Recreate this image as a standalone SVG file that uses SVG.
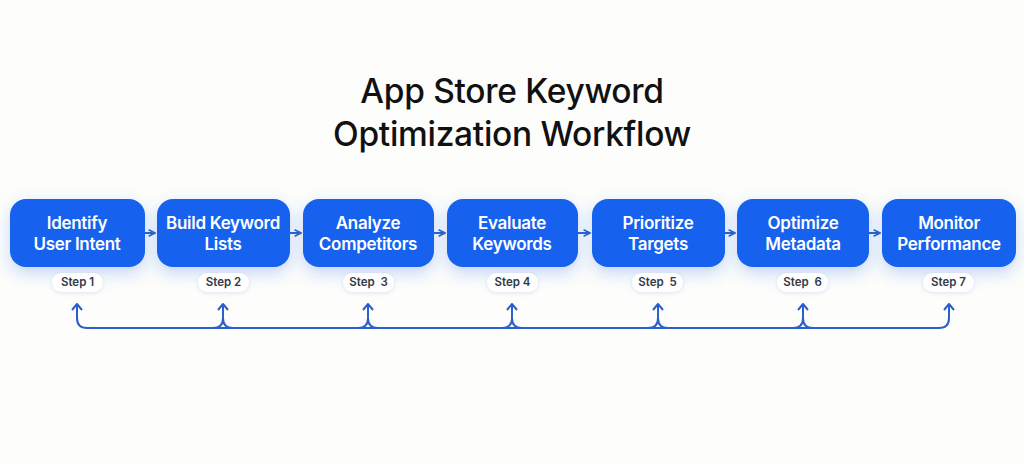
<svg xmlns="http://www.w3.org/2000/svg" width="1024" height="465" viewBox="0 0 1024 465">
<defs>
<filter id="soft" x="-30%" y="-40%" width="160%" height="220%">
<feGaussianBlur in="SourceAlpha" stdDeviation="8" result="b"/>
<feOffset in="b" dy="6" result="o"/>
<feFlood flood-color="#2f6fe8" flood-opacity="0.28"/>
<feComposite in2="o" operator="in" result="s"/>
<feMerge><feMergeNode in="s"/><feMergeNode in="SourceGraphic"/></feMerge>
</filter>
<filter id="pill" x="-30%" y="-50%" width="160%" height="220%">
<feGaussianBlur in="SourceAlpha" stdDeviation="2" result="b"/>
<feOffset in="b" dy="1" result="o"/>
<feFlood flood-color="#8aa6d6" flood-opacity="0.3"/>
<feComposite in2="o" operator="in" result="s"/>
<feMerge><feMergeNode in="s"/><feMergeNode in="SourceGraphic"/></feMerge>
</filter>
<marker id="ah" viewBox="0 0 10 10" refX="9" refY="5" markerWidth="8" markerHeight="8" markerUnits="userSpaceOnUse" orient="auto">
<path d="M1,1 L9,5 L1,9" fill="none" stroke="#2a5fcc" stroke-width="2"/>
</marker>
<marker id="up" viewBox="0 0 12 12" refX="6" refY="2" markerWidth="12" markerHeight="12" markerUnits="userSpaceOnUse" orient="0">
<path d="M1,8 L6,2 L11,8" fill="none" stroke="#2a5fcc" stroke-width="2" stroke-linejoin="round"/>
</marker>
</defs>
<style>
.box{fill:#1762ee;}
.bt{font-family:Inter,"Liberation Sans",sans-serif;font-size:17px;font-weight:600;fill:#ffffff;text-anchor:middle;letter-spacing:-0.3px}
.pl{fill:#ffffff;}
.pt{font-family:Inter,"Liberation Sans",sans-serif;font-size:11.5px;font-weight:600;fill:#333a44;text-anchor:middle}
.title{font-family:Inter,"Liberation Sans",sans-serif;font-size:33.5px;font-weight:500;fill:#111111;text-anchor:middle;letter-spacing:-0.3px}
.c{fill:none;stroke:#2a5fcc;stroke-width:2;}
</style>
<rect width="1024" height="465" fill="#fdfdfb"/>
<g id="title">
<text class="title" x="512" y="103">App Store Keyword</text>
<text class="title" x="512" y="146">Optimization Workflow</text>
</g>
<g id="connectors">
<path class="c" d="M145,233 L155,233" marker-end="url(#ah)"/>
<path class="c" d="M290,233 L301,233" marker-end="url(#ah)"/>
<path class="c" d="M434,233 L445,233" marker-end="url(#ah)"/>
<path class="c" d="M578,233 L590,233" marker-end="url(#ah)"/>
<path class="c" d="M725,233 L735,233" marker-end="url(#ah)"/>
<path class="c" d="M869,233 L880,233" marker-end="url(#ah)"/>
<path class="c" d="M77,304 L77,318 Q77,328 87,328 L939,328 Q949,328 949,318 L949,304" marker-start="url(#up)" marker-end="url(#up)"/>
<path class="c" d="M213,328 Q223,328 223,318 Q223,328 233,328 M223,318 L223,304" marker-end="url(#up)"/>
<path class="c" d="M358,328 Q368,328 368,318 Q368,328 378,328 M368,318 L368,304" marker-end="url(#up)"/>
<path class="c" d="M502,328 Q512,328 512,318 Q512,328 522,328 M512,318 L512,304" marker-end="url(#up)"/>
<path class="c" d="M648,328 Q658,328 658,318 Q658,328 668,328 M658,318 L658,304" marker-end="url(#up)"/>
<path class="c" d="M793,328 Q803,328 803,318 Q803,328 813,328 M803,318 L803,304" marker-end="url(#up)"/>
</g>
<g id="step1">
<rect class="box" x="10" y="199" width="135" height="68" rx="16" filter="url(#soft)"/>
<text class="bt" x="77" y="229">Identify</text>
<text class="bt" x="77" y="250">User Intent</text>
<rect class="pl" x="52" y="273" width="51" height="19" rx="9.5" filter="url(#pill)"/>
<text class="pt" x="77.5" y="286">Step 1</text>
</g>
<g id="step2">
<rect class="box" x="157" y="199" width="133" height="68" rx="16" filter="url(#soft)"/>
<text class="bt" x="223" y="229">Build Keyword</text>
<text class="bt" x="223" y="250">Lists</text>
<rect class="pl" x="198" y="273" width="51" height="19" rx="9.5" filter="url(#pill)"/>
<text class="pt" x="223.5" y="286">Step 2</text>
</g>
<g id="step3">
<rect class="box" x="303" y="199" width="131" height="68" rx="16" filter="url(#soft)"/>
<text class="bt" x="368" y="229">Analyze</text>
<text class="bt" x="368" y="250">Competitors</text>
<rect class="pl" x="343" y="273" width="51" height="19" rx="9.5" filter="url(#pill)"/>
<text class="pt" x="368.5" y="286" xml:space="preserve">Step  3</text>
</g>
<g id="step4">
<rect class="box" x="447" y="199" width="131" height="68" rx="16" filter="url(#soft)"/>
<text class="bt" x="512" y="229">Evaluate</text>
<text class="bt" x="512" y="250">Keywords</text>
<rect class="pl" x="487" y="273" width="51" height="19" rx="9.5" filter="url(#pill)"/>
<text class="pt" x="512.5" y="286">Step 4</text>
</g>
<g id="step5">
<rect class="box" x="592" y="199" width="133" height="68" rx="16" filter="url(#soft)"/>
<text class="bt" x="658" y="229">Prioritize</text>
<text class="bt" x="658" y="250">Targets</text>
<rect class="pl" x="632" y="273" width="51" height="19" rx="9.5" filter="url(#pill)"/>
<text class="pt" x="657.5" y="286" xml:space="preserve">Step  5</text>
</g>
<g id="step6">
<rect class="box" x="737" y="199" width="132" height="68" rx="16" filter="url(#soft)"/>
<text class="bt" x="803" y="229">Optimize</text>
<text class="bt" x="803" y="250">Metadata</text>
<rect class="pl" x="777" y="273" width="51" height="19" rx="9.5" filter="url(#pill)"/>
<text class="pt" x="802.5" y="286" xml:space="preserve">Step  6</text>
</g>
<g id="step7">
<rect class="box" x="882" y="199" width="134" height="68" rx="16" filter="url(#soft)"/>
<text class="bt" x="949" y="229">Monitor</text>
<text class="bt" x="949" y="250">Performance</text>
<rect class="pl" x="923" y="273" width="51" height="19" rx="9.5" filter="url(#pill)"/>
<text class="pt" x="948.5" y="286">Step 7</text>
</g>
</svg>
